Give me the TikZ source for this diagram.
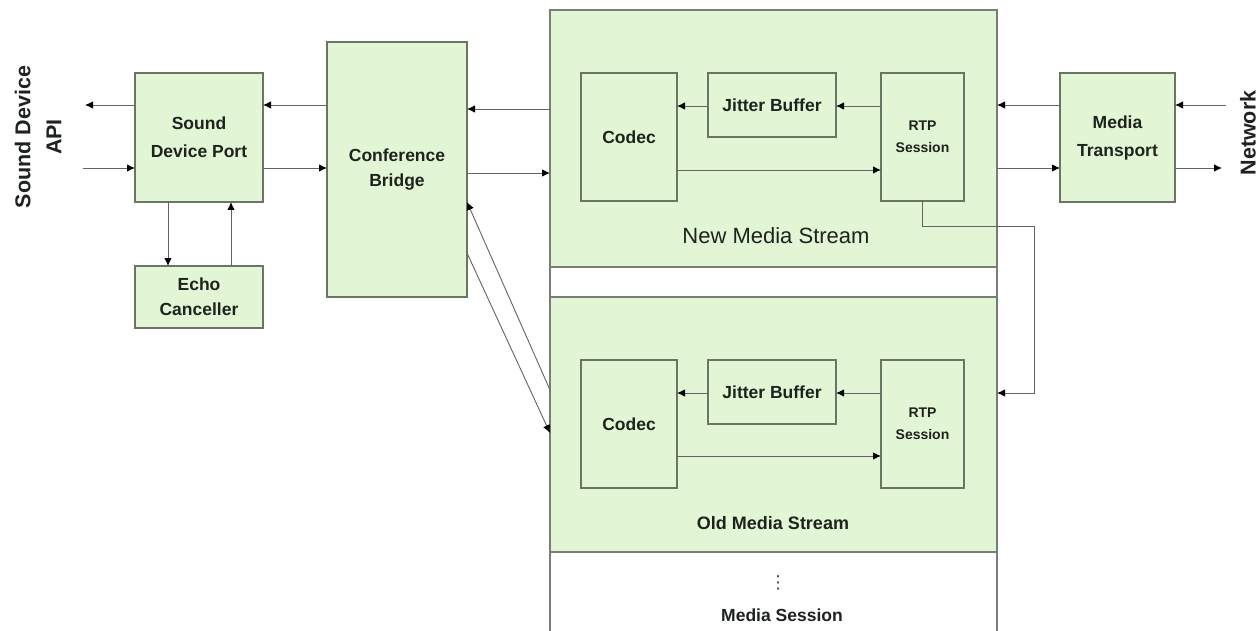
\documentclass[tikz,border=0pt]{standalone}
\usepackage{fontspec}
\setmainfont{Liberation Sans}
\newfontfamily\dejavu{DejaVu Sans}
\usetikzlibrary{arrows.meta,calc}
\definecolor{boxfill}{RGB}{226,245,212}
\definecolor{boxline}{RGB}{105,118,100}
\definecolor{outline}{RGB}{120,125,118}
\definecolor{conncol}{RGB}{100,100,100}
\definecolor{txt}{RGB}{30,35,30}
\begin{document}
\begin{tikzpicture}[x=1pt,y=-1pt,
  blk/.style={draw=boxline, fill=boxfill, line width=1.1pt, inner sep=0pt, outer sep=0pt,
    align=center, text=txt, font=\fontsize{17.5}{27}\selectfont\bfseries},
  frame/.style={draw=outline, fill=boxfill, line width=1.1pt, inner sep=0pt, outer sep=0pt},
  conn/.style={draw=conncol, line width=0.9pt, -{Latex[length=8pt,width=7.5pt,color=black]}},
  lbl/.style={text=txt, inner sep=0pt, align=center},
]
\useasboundingbox (0,0) rectangle (1258,631);
\fill[white] (0,0) rectangle (1258,631);

% media session outer frame
\draw[draw=outline, line width=1.1pt, fill=white] (550,10) rectangle (997,700);

% main blocks
\node[blk, minimum width=128pt, minimum height=129pt, font=\fontsize{17.5}{28}\selectfont\bfseries] (sdp) at (199,137.5) {Sound\\Device Port};
\node[blk, minimum width=128pt, minimum height=62pt, font=\fontsize{17.5}{25}\selectfont\bfseries] (echo) at (199,297) {Echo\\Canceller};
\node[blk, minimum width=140pt, minimum height=255pt, font=\fontsize{17.5}{25}\selectfont\bfseries] (cb) at (397,169.5) {Conference\\Bridge};
\node[blk, minimum width=115pt, minimum height=129pt, font=\fontsize{17.5}{28}\selectfont\bfseries] (mt) at (1117.5,137.5) {Media\\Transport};

% streams
\node[frame, minimum width=447pt, minimum height=257pt] (nms) at (773.5,138.5) {};
\node[frame, minimum width=447pt, minimum height=255pt] (oms) at (773.5,424.5) {};

\node[blk, minimum width=96pt, minimum height=128pt] (codec1) at (629,137) {Codec};
\node[blk, minimum width=128pt, minimum height=64pt] (jb1) at (772,105) {Jitter Buffer};
\node[blk, minimum width=83pt, minimum height=128pt, font=\fontsize{14}{22}\selectfont\bfseries] (rtp1) at (922.5,137) {RTP\\Session};

\node[blk, minimum width=96pt, minimum height=128pt] (codec2) at (629,424) {Codec};
\node[blk, minimum width=128pt, minimum height=64pt] (jb2) at (772,392) {Jitter Buffer};
\node[blk, minimum width=83pt, minimum height=128pt, font=\fontsize{14}{22}\selectfont\bfseries] (rtp2) at (922.5,424) {RTP\\Session};

\node[lbl, font=\fontsize{22}{26}\selectfont] (nmsl) at (776,236) {New Media Stream};
\node[lbl, font=\fontsize{18}{24}\selectfont\bfseries] (omsl) at (773,523) {Old Media Stream};
\node[lbl, text=conncol!80!black, font=\dejavu\fontsize{18}{20}\selectfont] (dots) at (778,583) {⋮};
\node[lbl, font=\fontsize{17.5}{24}\selectfont\bfseries] (msl) at (782,615) {Media Session};

% side labels
\node[lbl, rotate=90, font=\fontsize{21.5}{31}\selectfont\bfseries] (api) at (38,137) {Sound Device\\API};
\node[lbl, rotate=90, font=\fontsize{21.5}{31}\selectfont\bfseries] (net) at (1248,133) {Network};

% free ends
\coordinate (apiout) at (85,105);
\coordinate (apiin) at (83,168);
\coordinate (netin) at (1226,105);
\coordinate (netout) at (1222,168);

% sound device port <-> API
\draw[conn] (sdp.west |- apiout) -- (apiout);
\draw[conn] (apiin) -- (sdp.west |- apiin);
% sdp <-> echo
\draw[conn] (sdp.south -| 168,0) -- (echo.north -| 168,0);
\draw[conn] (echo.north -| 231,0) -- (sdp.south -| 231,0);
% sdp <-> cb
\draw[conn] (cb.west |- 0,105) -- (sdp.east |- 0,105);
\draw[conn] (sdp.east |- 0,168) -- (cb.west |- 0,168);
% cb <-> nms
\draw[conn] (nms.west |- 0,109) -- (cb.east |- 0,109);
\draw[conn] (cb.east |- 0,173) -- (nms.west |- 0,173);
% cb <-> oms diagonals
\draw[conn] (oms.west |- 0,390) -- (cb.east |- 0,202);
\draw[conn] (cb.east |- 0,253) -- (oms.west |- 0,433);
% nms <-> mt
\draw[conn] (mt.west |- 0,105) -- (nms.east |- 0,105);
\draw[conn] (nms.east |- 0,168) -- (mt.west |- 0,168);
% mt <-> network
\draw[conn] (netin) -- (mt.east |- netin);
\draw[conn] (mt.east |- netout) -- (netout);

% inside new stream
\draw[conn] (rtp1.west |- 0,106) -- (jb1.east |- 0,106);
\draw[conn] (jb1.west |- 0,106) -- (codec1.east |- 0,106);
\draw[conn] (codec1.east |- 0,170) -- (rtp1.west |- 0,170);
% inside old stream
\draw[conn] (rtp2.west |- 0,393) -- (jb2.east |- 0,393);
\draw[conn] (jb2.west |- 0,393) -- (codec2.east |- 0,393);
\draw[conn] (codec2.east |- 0,456) -- (rtp2.west |- 0,456);

% rtp new -> old stream
\draw[conn] (rtp1.south) -- (922.5,226) -- (1034,226) -- (1034,393) -- (oms.east |- 0,393);
\end{tikzpicture}
\end{document}
